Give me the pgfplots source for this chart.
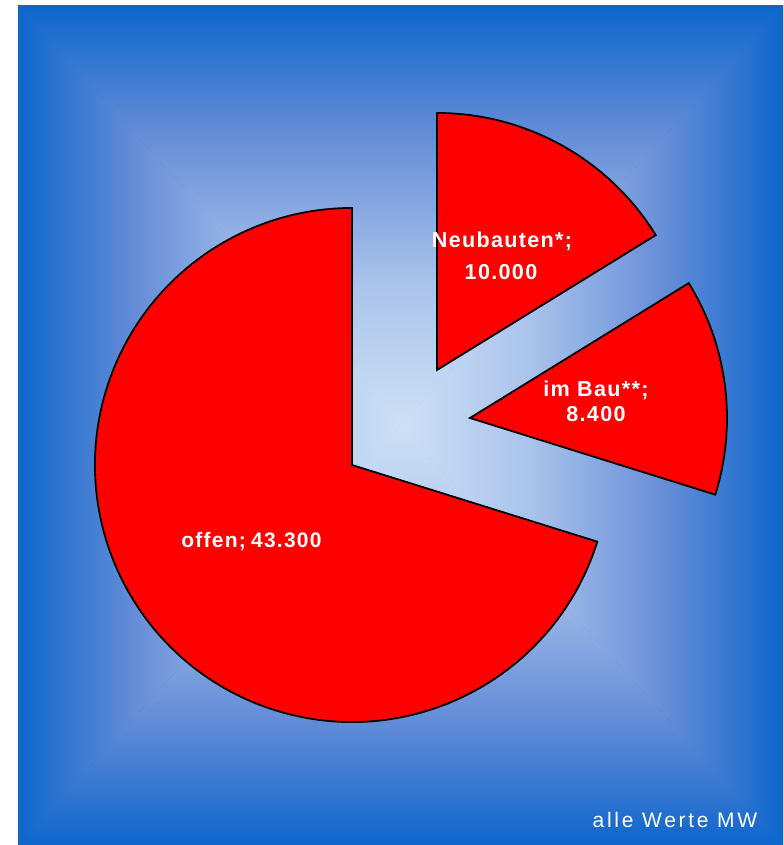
\documentclass[border=0pt]{standalone}
\usepackage{pgfplots}
\pgfplotsset{compat=1.18}
\usepackage{fontspec}
\setmainfont{Liberation Sans}
\newfontfamily\labfont[LetterSpace=6]{Liberation Sans}
\newfontfamily\notefont[LetterSpace=13]{Liberation Sans}
\definecolor{bgC}{RGB}{204,224,245}
\definecolor{bgM1}{RGB}{170,195,235}
\definecolor{bgM2}{RGB}{100,140,215}
\definecolor{bgE}{RGB}{13,102,204}
\definecolor{pie}{RGB}{255,0,0}
\pgfdeclareverticalshading{bgshade}{100bp}{color(0bp)=(bgC); color(25bp)=(bgC); color(42bp)=(bgM1); color(60bp)=(bgM2); color(75bp)=(bgE); color(100bp)=(bgE)}
% data values (thousand MW)
\def\vNeu{10.0}
\def\vBau{8.4}
\def\vOff{43.3}
\begin{document}
\begin{tikzpicture}
\pgfmathsetmacro\tot{\vNeu+\vBau+\vOff}
\pgfmathsetmacro\aA{90}
\pgfmathsetmacro\aB{\aA-360*\vNeu/\tot}
\pgfmathsetmacro\aC{\aB-360*\vBau/\tot}
\pgfmathsetmacro\aD{\aC-360*\vOff/\tot}
\begin{axis}[
  x=0.5pt, y=0.5pt,
  xmin=0, xmax=783, ymin=0, ymax=845,
  hide axis, clip=false,
]
% page area (white margin on left and top)
\fill[white] (axis cs:0,0) rectangle (axis cs:783,845);
% background: rectangular gradient built from four triangles
\shade[inner color=bgM1, outer color=bgE] (axis cs:18,0) rectangle (axis cs:783,839);
\shade[shading=bgshade] (axis cs:18,839) -- (axis cs:783,839) -- (axis cs:400.5,419.5) -- cycle;
\shade[shading=bgshade, shading angle=180] (axis cs:18,0) -- (axis cs:783,0) -- (axis cs:400.5,419.5) -- cycle;
\shade[shading=bgshade, shading angle=90] (axis cs:18,0) -- (axis cs:18,839) -- (axis cs:400.5,419.5) -- cycle;
\shade[shading=bgshade, shading angle=-90] (axis cs:783,0) -- (axis cs:783,839) -- (axis cs:400.5,419.5) -- cycle;
% pie sectors
\filldraw[fill=pie, draw=black, line width=0.9pt, line join=miter]
  (axis cs:352,380) -- ++(\aC:128.5pt) arc[start angle=\aC, end angle=\aD, radius=128.5pt] -- cycle;
\filldraw[fill=pie, draw=black, line width=0.9pt, line join=miter]
  (axis cs:437,475) -- ++(\aA:128.5pt) arc[start angle=\aA, end angle=\aB, radius=128.5pt] -- cycle;
\filldraw[fill=pie, draw=black, line width=0.9pt, line join=miter]
  (axis cs:470,427) -- ++(\aB:128.5pt) arc[start angle=\aB, end angle=\aC, radius=128.5pt] -- cycle;
% labels
\node[anchor=base, text=white, inner sep=0pt, font=\labfont\bfseries\fontsize{10.8pt}{13pt}\selectfont] at (axis cs:502,597) {Neubauten*;};
\node[anchor=base, text=white, inner sep=0pt, font=\labfont\bfseries\fontsize{10.8pt}{13pt}\selectfont] at (axis cs:501,565) {10.000};
\node[anchor=base, text=white, inner sep=0pt, font=\labfont\bfseries\fontsize{10.8pt}{13pt}\selectfont] at (axis cs:596,448) {im Bau**;};
\node[anchor=base, text=white, inner sep=0pt, font=\labfont\bfseries\fontsize{10.8pt}{13pt}\selectfont] at (axis cs:596,423) {8.400};
\node[anchor=base, text=white, inner sep=0pt, font=\labfont\bfseries\fontsize{10.5pt}{13pt}\selectfont] at (axis cs:251.5,297) {offen;\kern-1pt\ 43.300};
\node[anchor=base, text=white, inner sep=0pt, font=\notefont\fontsize{10.5pt}{13pt}\selectfont] at (axis cs:675,18) {alle Werte MW};
\end{axis}
\end{tikzpicture}
\end{document}
